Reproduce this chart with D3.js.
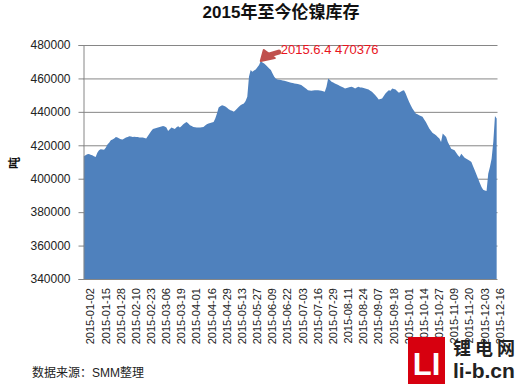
<!DOCTYPE html>
<html>
<head>
<meta charset="utf-8">
<script src="https://cdn.jsdelivr.net/npm/d3@7"></script>
<style>
    body { margin: 0; background: #fff; }
    text { font-family: "Liberation Sans", "Noto Sans CJK SC", sans-serif; }
</style>
</head>
<body>
<div id="chart"></div>
<script>
// LME nickel stocks (tonnes), one value per LME trading day from 2015-01-02
let stocks = [
    413400, 414000, 414600, 414800, 414300, 414000, 413500, 413000, 415500, 417000,
    417600, 417500, 417400, 418500, 420500, 421500, 423000, 423500, 424000, 425000,
    424600, 424000, 423600, 423400, 424000, 424600, 425000, 425400, 425200, 425000,
    425100, 425000, 424900, 424600, 424700, 424600, 424300, 424000, 425500, 427000,
    428500, 429800, 430100, 430400, 430700, 431000, 431300, 431600, 431200, 430600,
    428600, 429600, 430600, 430200, 429800, 430800, 431400, 430600, 431600, 432600,
    433300, 434000, 433000, 432000, 431500, 431000, 430800, 430600, 430600, 430600,
    430800, 431000, 431800, 432600, 433000, 433400, 433700, 434000, 436000, 439000,
    442600, 443300, 444000, 443700, 443200, 442500, 441500, 441000, 440600, 440000,
    441000, 442000, 443000, 444000, 444500, 445000, 446500, 449000, 461000, 465000,
    464000, 464700, 465400, 466700, 468000, 470376, 469500, 469000, 468000, 467000,
    466000, 465000, 463000, 461000, 459800, 459400, 459200, 459000, 458800, 458600,
    458300, 458000, 457700, 457400, 457200, 457000, 456800, 456600, 456300, 456000,
    455300, 454600, 453800, 453000, 452800, 452600, 452800, 453000, 453000, 453000,
    452800, 452600, 452300, 452000, 455000, 460000, 459000, 458000, 457500, 457000,
    456500, 456000, 455500, 455000, 454500, 454000, 454300, 454600, 454800, 455000,
    454500, 454000, 454500, 455000, 454500, 454600, 454300, 454000, 453700, 453400,
    452700, 452000, 451000, 450000, 448700, 447400, 447700, 448000, 449500, 451000,
    452000, 453000, 452600, 454000, 453700, 453400, 452400, 451400, 452000, 452600,
    453000, 451000, 448500, 446000, 444000, 442000, 440500, 439000, 438500, 438000,
    437500, 437000, 435500, 434000, 432000, 430000, 428700, 427400, 426700, 426000,
    425000, 424000, 422000, 427000, 426000, 425000, 422000, 420000, 418000, 417500,
    417000, 415500, 414000, 413000, 415000, 413800, 412600, 412000, 411400, 410700,
    410000, 407500, 405000, 402500, 400000, 397500, 395000, 393400, 393000, 392600,
    403000, 407000, 412000, 422000, 437500, 436000
];

// LME closed days (weekends skipped separately)
let holidays = ["2015-04-03", "2015-04-06", "2015-05-04", "2015-05-25", "2015-08-31"];

let tickLabels = [
    "2015-01-02", "2015-01-15", "2015-01-28", "2015-02-10", "2015-02-23", "2015-03-06",
    "2015-03-19", "2015-04-01", "2015-04-16", "2015-04-29", "2015-05-13", "2015-05-27",
    "2015-06-09", "2015-06-22", "2015-07-03", "2015-07-16", "2015-07-29", "2015-08-11",
    "2015-08-24", "2015-09-07", "2015-09-18", "2015-10-01", "2015-10-14", "2015-10-27",
    "2015-11-09", "2015-11-20", "2015-12-03", "2015-12-16"
];

let yTicks = [340000, 360000, 380000, 400000, 420000, 440000, 460000, 480000];

let peakLabel = "2015.6.4 470376";

// build the trading-day categories
let fmt = d3.timeFormat("%Y-%m-%d");
let dates = [];
let day = new Date(2015, 0, 2);
while (dates.length < stocks.length) {
    let s = fmt(day);
    if (day.getDay() != 0 && day.getDay() != 6 && holidays.indexOf(s) < 0) dates.push(s);
    day = d3.timeDay.offset(day, 1);
}

let W = 524, H = 384;
let margin = {top: 45, right: 26.5, bottom: 105, left: 83};
let width = W - margin.left - margin.right,
    height = H - margin.top - margin.bottom;

let svg = d3.select("#chart").append("svg")
    .attr("width", W)
    .attr("height", H);

let g = svg.append("g")
    .attr("transform", "translate(" + margin.left + "," + margin.top + ")");

let x = d3.scalePoint()
    .domain(dates)
    .range([0, width])
    .padding(0.5);

let y = d3.scaleLinear()
    .domain([340000, 480000])
    .range([height, 0]);

// gridlines
g.selectAll(".grid")
    .data(yTicks)
    .enter()
    .append("line")
    .attr("class", "grid")
    .attr("x1", 0)
    .attr("x2", width)
    .attr("y1", d => y(d) + 0.5)
    .attr("y2", d => y(d) + 0.5)
    .attr("stroke", "#868686")
    .attr("stroke-width", 1);

// area
let area = d3.area()
    .x((d, i) => x(dates[i]))
    .y0(height)
    .y1(d => y(d));

g.append("path")
    .datum(stocks)
    .attr("d", area)
    .attr("fill", "#4f81bd");

// y axis
let yAxis = d3.axisLeft(y)
    .tickValues(yTicks)
    .tickFormat(d3.format("d"))
    .tickSize(5)
    .tickPadding(8);

let yg = g.append("g")
    .attr("transform", "translate(0.5,0)")
    .call(yAxis);
yg.select(".domain").attr("stroke", "#868686");
yg.selectAll(".tick line").attr("stroke", "#868686");
yg.selectAll(".tick text")
    .attr("fill", "#222")
    .style("font-size", "12px");

// x labels (rotated)
let xAxis = d3.axisBottom(x)
    .tickValues(tickLabels)
    .tickSize(0)
    .tickPadding(0);

let xg = g.append("g")
    .attr("transform", "translate(0," + height + ")")
    .call(xAxis);
xg.select(".domain").remove();
xg.selectAll(".tick text")
    .attr("fill", "#222")
    .style("font-size", "11px")
    .style("text-anchor", "end")
    .attr("transform", "rotate(-90)")
    .attr("x", -9)
    .attr("y", 0)
    .attr("dy", "10px");

// y axis title
svg.append("text")
    .attr("transform", "translate(19,163) rotate(-90)")
    .attr("text-anchor", "middle")
    .style("font-size", "12px")
    .style("font-weight", "bold")
    .attr("fill", "#111")
    .text("吨");

// chart title
svg.append("text")
    .attr("x", 281)
    .attr("y", 18)
    .attr("text-anchor", "middle")
    .style("font-size", "17px")
    .style("font-weight", "bold")
    .attr("fill", "#111")
    .text("2015年至今伦镍库存");

// peak annotation
let peakIdx = stocks.indexOf(d3.max(stocks));
let px = x(dates[peakIdx]), py = y(stocks[peakIdx]);
let ann = g.append("g").attr("transform", "translate(" + px + "," + py + ")");
ann.append("line")
    .attr("x1", 8).attr("y1", -6)
    .attr("x2", 18).attr("y2", -9)
    .attr("stroke", "#c0504d")
    .attr("stroke-width", 5)
    .attr("stroke-linecap", "round");
ann.append("path")
    .attr("d", "M0,0 L3,-11 L14,-3 Z")
    .attr("fill", "#c0504d")
    .attr("stroke", "#c0504d")
    .attr("stroke-width", 2)
    .attr("stroke-linejoin", "round");
ann.append("text")
    .attr("x", 20)
    .attr("y", -7)
    .style("font-size", "13px")
    .attr("fill", "#e8141e")
    .text(peakLabel);

// source note
svg.append("text")
    .attr("x", 32)
    .attr("y", 377)
    .style("font-size", "12px")
    .attr("fill", "#222")
    .text("数据来源：SMM整理");

// watermark logo
let logo = svg.append("g");
logo.append("rect")
    .attr("x", 408).attr("y", 337)
    .attr("width", 37).attr("height", 47)
    .attr("fill", "#d7000f");
logo.append("text")
    .attr("x", 426.5).attr("y", 375)
    .attr("text-anchor", "middle")
    .style("font-size", "31px")
    .style("font-weight", "bold")
    .attr("fill", "#fff")
    .text("LI");
logo.append("text")
    .attr("x", 453).attr("y", 355)
    .style("font-size", "18px")
    .style("font-weight", "bold")
    .style("letter-spacing", "4px")
    .attr("fill", "#222")
    .text("锂电网");
logo.append("text")
    .attr("x", 453).attr("y", 378)
    .style("font-size", "21px")
    .style("font-weight", "bold")
    .attr("fill", "#222")
    .text("li-b.cn");
</script>
</body>
</html>
